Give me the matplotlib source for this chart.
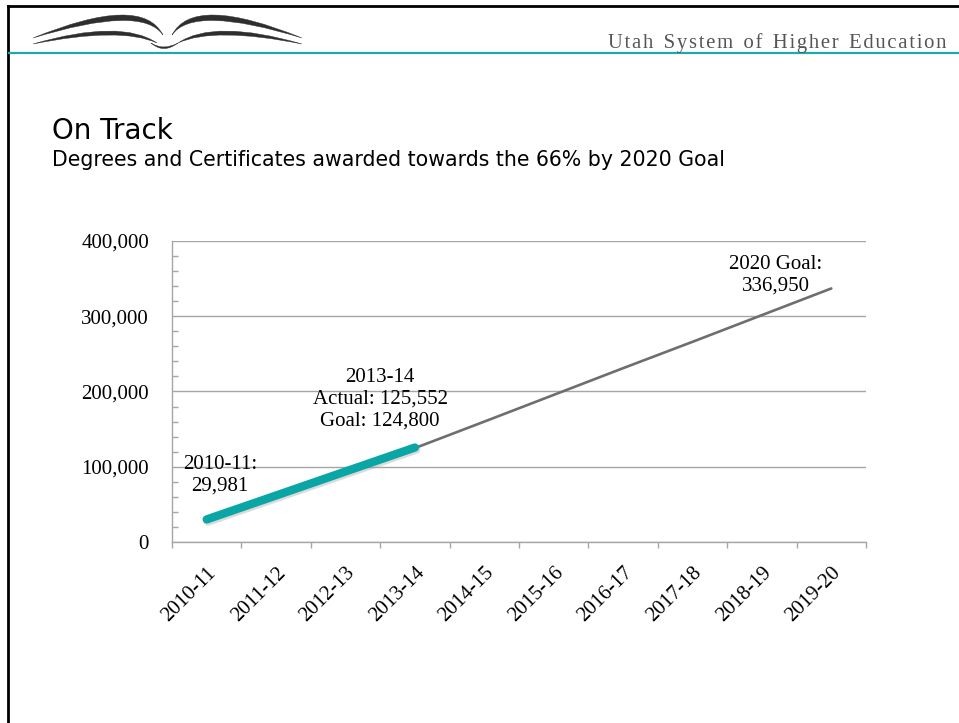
import numpy as np
import matplotlib
matplotlib.use("Agg")
import matplotlib.pyplot as plt
import matplotlib.patheffects as pe
from matplotlib.path import Path
from matplotlib.patches import PathPatch
from matplotlib.lines import Line2D
from matplotlib.ticker import FixedLocator, FuncFormatter, MultipleLocator

# chart data
years = ['2010-11', '2011-12', '2012-13', '2013-14', '2014-15',
         '2015-16', '2016-17', '2017-18', '2018-19', '2019-20']
actual = [29981, 61800, 93700, 125552]
goal = [29981, 61000, 92900, 124800, 160000, 195500, 231000, 266000, 301500, 336950]

W, H = 959, 723
TEAL = '#0aa6a6'
GRID = '#a6a6a6'
SERIF = ['Liberation Serif', 'DejaVu Serif']
SANS = ['DejaVu Sans']

fig = plt.figure(figsize=(W / 100, H / 100), dpi=100)


def px(x, y):
    """pixel position (top-left origin) -> figure fraction"""
    return x / W, 1 - y / H


def wing(tail, peak, tip, thick):
    """crescent shape: two quadratic curves through peak and peak+thick"""
    p0, p2 = np.array(tail, float), np.array(tip, float)
    m_top = np.array(peak, float)
    m_bot = m_top + [0, thick]
    c_top = 2 * m_top - 0.5 * (p0 + p2)
    c_bot = 2 * m_bot - 0.5 * (p0 + p2)
    verts = [p0, c_top, p2, c_bot, p0, p0]
    codes = [Path.MOVETO, Path.CURVE3, Path.CURVE3, Path.CURVE3, Path.CURVE3, Path.CLOSEPOLY]
    return [px(*v) for v in verts], codes


# --- header: book logo ---
mid = 167.5
left_wings = [((33, 38), (120, 15), (163, 35), 5.5),
              ((33, 44), (108, 31), (157, 43), 4)]
for tail, peak, tip, t in left_wings:
    for sgn in (1, -1):
        mx = lambda p: (mid + sgn * (p[0] - mid), p[1])
        verts, codes = wing(mx(tail), mx(peak), mx(tip), t)
        fig.patches.append(PathPatch(Path(verts, codes), transform=fig.transFigure,
                                     facecolor='#2e2e2e', edgecolor='#2e2e2e', lw=0.3))
verts, codes = wing((151, 43), (164, 47), (178, 43), 1.6)
fig.patches.append(PathPatch(Path(verts, codes), transform=fig.transFigure,
                             facecolor='#2e2e2e', edgecolor='#2e2e2e', lw=0.3))

# slide frame and header rule
fig.add_artist(Line2D([8 / W, 8 / W], [0, 1 - 6 / H], transform=fig.transFigure, color='black', lw=2))
fig.add_artist(Line2D([8 / W, 1], [1 - 6 / H, 1 - 6 / H], transform=fig.transFigure, color='black', lw=2))
fig.add_artist(Line2D([9 / W, 1], [1 - 53 / H, 1 - 53 / H], transform=fig.transFigure, color='#20a9a9', lw=1.6))

header = 'Utah System of Higher Education'
spaced = '\u2002'.join('\u200a'.join(word) for word in header.split(' '))
fig.text(*px(947, 48), spaced, ha='right', va='baseline', fontsize=14.9,
         color='#555555', family=SERIF)

# titles
fig.text(*px(52, 139), 'On Track', fontsize=20, family=SANS, va='baseline', color='black')
fig.text(*px(52, 166), 'Degrees and Certificates awarded towards the 66% by 2020 Goal',
         fontsize=14.8, family=SANS, va='baseline', color='black')

# --- chart ---
ax = fig.add_axes([172 / W, 1 - 542 / H, (866 - 172) / W, (542 - 241) / H])
x = np.arange(len(years))
ax.plot(x, goal, color='#6e6e6e', lw=1.9, solid_capstyle='round', zorder=3)
ax.plot(x[:len(actual)], actual, color=TEAL, lw=6, solid_capstyle='round', zorder=4,
        path_effects=[pe.SimpleLineShadow(offset=(1, -1.5), shadow_color='#999999', alpha=0.35),
                      pe.Normal()])

ax.set_xlim(-0.5, len(years) - 0.5)
ax.set_ylim(0, 400000)

for s in ('top', 'right'):
    ax.spines[s].set_visible(False)
for s in ('left', 'bottom'):
    ax.spines[s].set_color(GRID)
    ax.spines[s].set_linewidth(1)

ax.yaxis.set_major_locator(MultipleLocator(100000))
ax.yaxis.set_minor_locator(MultipleLocator(20000))
ax.yaxis.set_major_formatter(FuncFormatter(lambda v, p: f'{int(v):,}'))
ax.grid(axis='y', which='major', color=GRID, lw=1)
ax.tick_params(axis='y', which='major', length=0, pad=16.5, labelsize=15)
ax.tick_params(axis='y', which='minor', direction='in', length=4.3, color=GRID, width=1)

ax.set_xticks(x)
ax.set_xticklabels(years)
ax.xaxis.set_minor_locator(FixedLocator(np.arange(-0.5, len(years), 1.0)))
ax.tick_params(axis='x', which='major', length=0, pad=15.5, labelsize=15)
ax.tick_params(axis='x', which='minor', direction='out', length=4.5, color=GRID, width=1)
for lab in ax.get_xticklabels():
    lab.set_rotation(45)
    lab.set_ha('right')
    lab.set_rotation_mode('anchor')
for lab in ax.get_xticklabels() + ax.get_yticklabels():
    lab.set_family(SERIF)

ax.set_axisbelow(True)

# data callouts
note = dict(ha='center', va='center', fontsize=15, family=SERIF, linespacing=1.2, zorder=5)
ax.text(0.19, 89000, '2010-11:\n29,981', **note)
ax.text(2.5, 190000, '2013-14\nActual: 125,552\nGoal: 124,800', **note)
ax.text(8.2, 354000, '2020 Goal:\n336,950', **note)

fig.savefig('out.png', dpi=100)
